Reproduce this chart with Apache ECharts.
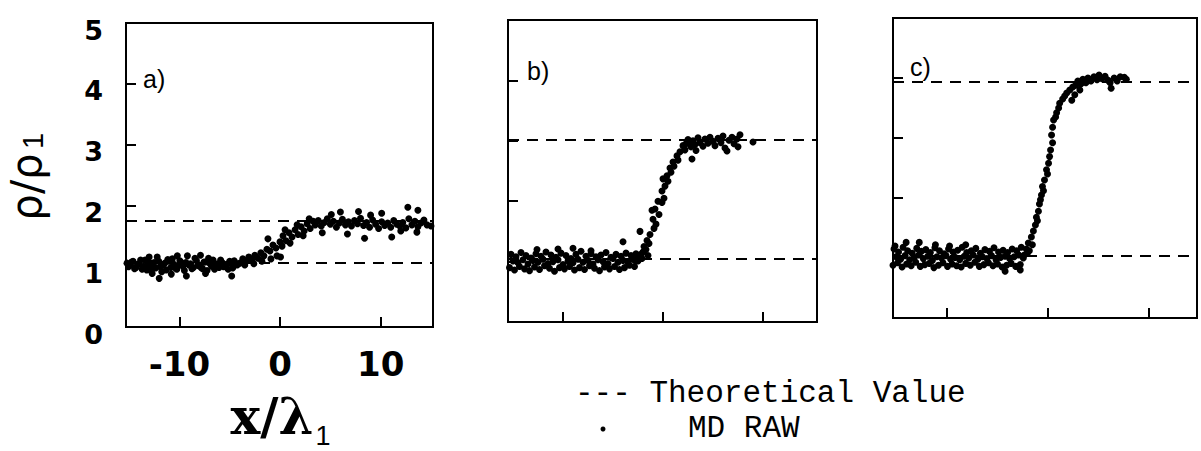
<!DOCTYPE html>
<html><head><meta charset="utf-8">
<script src="https://cdn.jsdelivr.net/npm/echarts@6/dist/echarts.min.js"></script>
<style>html,body{margin:0;padding:0;background:#fff}#c{width:1201px;height:451px}</style>
</head><body><div id="c"></div>
<script>
// ---------- data ----------
const xTickValues = [-10, 0, 10];
const xTickLabels = ['-10', '0', '10'];
const yTickValues = [1, 2, 3, 4];
const yLabelValues = [0, 1, 2, 3, 4, 5];
const yTickLabels = ['0', '1', '2', '3', '4', '5'];
const panelNames = ['a)', 'b)', 'c)'];
const legendNames = ['--- Theoretical Value', 'MD RAW'];
const yTitleMain = 'ρ/ρ';
const xTitleMain = 'x/λ';
const titleSub = '1';

// theoretical values (dashed lines) per panel
const theoryA = [1.05, 1.74];
const theoryB = [1.04, 3.02];
const theoryC = [1.03, 3.93];

// MD raw points, panel a
const aPoints = [
[-15.2,1.05],[-15.05,0.99],[-14.9,1.02],[-14.75,1.07],[-14.6,1.08],[-14.45,0.96],[-14.3,0.98],[-14.15,1.03],[-14.0,1.04],[-13.85,1.10],
[-13.7,0.95],[-13.55,1.00],[-13.4,1.10],[-13.25,0.94],[-13.1,1.00],[-12.95,1.06],[-12.8,0.92],[-12.65,1.02],[-12.5,1.06],[-12.35,0.97],
[-12.2,1.15],[-12.05,1.08],[-11.9,0.99],[-11.75,0.91],[-11.6,1.03],[-11.45,1.05],[-11.3,0.94],[-11.15,1.11],[-11.0,1.08],[-10.85,0.98],
[-10.7,1.12],[-10.55,1.03],[-10.4,0.97],[-10.25,0.95],[-10.1,1.01],[-9.95,1.09],[-9.8,1.06],[-9.65,1.00],[-9.5,0.93],[-9.35,1.06],
[-9.2,1.17],[-9.05,1.02],[-8.9,1.04],[-8.75,0.96],[-8.6,0.98],[-8.45,1.13],[-8.3,1.09],[-8.15,1.01],[-8.0,1.02],[-7.85,0.98],
[-7.7,0.96],[-7.55,1.07],[-7.4,1.07],[-7.25,0.93],[-7.1,1.13],[-6.95,1.04],[-6.8,1.00],[-6.65,1.10],[-6.5,0.95],[-6.35,1.02],
[-6.2,1.04],[-6.05,0.98],[-5.9,1.10],[-5.75,1.06],[-5.6,0.99],[-5.45,1.01],[-5.3,1.03],[-5.15,0.95],[-5.0,1.08],[-4.85,1.05],
[-4.7,0.97],[-4.55,1.09],[-4.4,1.05],[-4.25,1.02],
[-12.0,0.80],[-9.3,0.84],[-4.8,0.84],[-13.0,1.15],[-10.2,1.17],[-7.9,1.18],[-12.7,0.88],[-10.8,0.87],[-7.4,0.88],
[-4.0,1.05],[-3.7,1.12],[-3.4,1.08],[-3.1,1.15],[-2.8,1.10],[-2.5,1.18],[-2.2,1.13],[-1.9,1.22],[-1.6,1.17],[-1.3,1.28],
[-1.2,1.45],[-1.0,1.25],[-0.7,1.35],[-0.4,1.30],[-0.3,1.17],[0.0,1.40],[0.3,1.50],[0.6,1.42],[0.9,1.55],[1.2,1.48],
[1.5,1.60],[1.8,1.52],[2.1,1.65],[2.4,1.58],[2.7,1.70],[3.0,1.62],[3.3,1.74],[-3.5,1.02],[-2.6,1.04],[-1.8,1.08],
[-0.9,1.12],[0.2,1.33],[0.5,1.60],[1.0,1.38],[1.7,1.68],[2.3,1.50],[2.9,1.78],[0.05,1.15],
[3.5,1.68],[3.8,1.75],[4.1,1.66],[4.4,1.72],[4.7,1.78],[5.0,1.69],[5.3,1.74],[5.6,1.64],[5.9,1.71],[6.2,1.77],
[6.5,1.68],[6.8,1.73],[7.1,1.66],[7.4,1.75],[7.7,1.70],[8.0,1.79],[8.3,1.67],[8.6,1.72],[8.9,1.64],[9.2,1.76],
[9.5,1.69],[9.8,1.62],[10.1,1.73],[10.4,1.67],[10.7,1.71],[11.0,1.64],[11.3,1.75],[11.6,1.69],[11.9,1.66],[12.2,1.72],
[12.5,1.63],[12.8,1.78],[13.1,1.68],[13.4,1.74],[13.7,1.65],[14.0,1.71],[14.3,1.76],[14.6,1.68],[15.0,1.66],
[6.0,1.89],[7.8,1.90],[10.1,1.87],[12.7,1.97],[13.7,1.92],[6.7,1.53],[8.4,1.46],[11.1,1.48],[13.6,1.56],[4.2,1.55],
[5.1,1.85],[9.0,1.84],[12.0,1.58]
];

// MD raw points, panel b
const bPoints = [
[-15.2,1.12],[-14.7,1.08],[-14.2,1.15],[-13.7,1.10],[-13.2,1.06],[-12.7,1.13],[-12.2,1.09],[-11.7,1.16],[-11.2,1.11],[-10.7,1.07],
[-10.2,1.14],[-9.7,1.10],[-9.2,1.05],[-8.7,1.12],[-8.2,1.17],[-7.7,1.09],[-7.2,1.13],[-6.7,1.08],[-6.2,1.11],[-5.7,1.15],
[-5.2,1.07],[-4.7,1.12],[-4.2,1.09],[-3.7,1.14],[-3.2,1.10],[-2.7,1.13],
[-15.0,1.01],[-14.5,0.98],[-14.0,1.03],[-13.5,0.96],[-13.0,1.02],[-12.5,0.99],[-12.0,1.04],[-11.5,0.97],[-11.0,1.00],[-10.5,1.03],
[-10.0,0.95],[-9.5,1.01],[-9.0,0.98],[-8.5,1.04],[-8.0,0.99],[-7.5,1.02],[-7.0,0.96],[-6.5,1.03],[-6.0,1.00],[-5.5,0.97],
[-5.0,1.05],[-4.5,0.99],[-4.0,1.02],[-3.5,0.98],[-3.0,1.04],[-2.5,1.01],
[-15.35,0.90],[-14.85,0.86],[-14.35,0.92],[-13.85,0.88],[-13.35,0.85],[-12.85,0.91],[-12.35,0.87],[-11.85,0.93],[-11.35,0.89],[-10.85,0.84],
[-10.35,0.90],[-9.85,0.88],[-9.35,0.92],[-8.85,0.86],[-8.35,0.90],[-7.85,0.87],[-7.35,0.93],[-6.85,0.89],[-6.35,0.85],[-5.85,0.91],
[-5.35,0.88],[-4.85,0.92],[-4.35,0.87],[-3.85,0.90],[-3.35,0.94],[-2.85,0.92],
[-12.6,1.20],[-9.0,1.22],[-7.2,1.18],[-10.5,1.21],[-4.0,1.33],
[-2.5,1.08],[-2.3,1.50],[-2.2,1.12],[-2.0,1.16],[-1.9,1.25],[-1.7,1.20],[-1.6,1.35],[-1.4,1.30],[-1.3,1.45],[-1.1,1.85],
[-1.0,1.70],[-0.9,1.55],[-0.8,1.87],[-0.7,1.62],[-0.5,2.00],[-0.4,1.78],[-0.1,2.17],[0.0,2.37],[-0.1,1.98],[0.1,2.05],
[0.2,2.25],[0.4,2.42],[0.5,2.33],[0.7,2.55],[0.8,2.48],[1.0,2.65],[1.1,2.58],[1.4,2.75],[1.5,2.68],[1.7,2.82],
[2.0,2.92],[2.2,2.85],[2.7,2.98],[2.9,2.70],[-2.8,1.02],[-2.1,1.05],[-1.5,1.10],
[2.3,2.95],[2.5,3.02],[2.8,2.90],[3.0,3.00],[3.2,2.94],[3.5,3.05],[3.7,2.97],[4.0,2.91],[4.2,3.03],[4.5,2.96],
[4.7,3.06],[5.0,2.99],[5.2,2.92],[5.5,3.04],[5.8,2.97],[6.0,3.08],[6.2,2.88],[6.4,2.83],[6.6,3.01],[6.9,3.06],
[7.1,2.95],[7.4,3.03],[7.7,3.10],[7.5,2.90],[9.0,2.98],[3.3,2.84]
];

// MD raw points, panel c
const cPoints = [
[-15.2,1.15],[-14.75,1.10],[-14.3,1.18],[-13.85,1.12],[-13.4,1.08],[-12.95,1.16],[-12.5,1.11],[-12.05,1.14],[-11.6,1.09],[-11.15,1.17],
[-10.7,1.12],[-10.25,1.07],[-9.8,1.15],[-9.35,1.10],[-8.9,1.13],[-8.45,1.18],[-8.0,1.09],[-7.55,1.12],[-7.1,1.16],[-6.65,1.08],
[-6.2,1.14],[-5.75,1.11],[-5.3,1.17],[-4.85,1.10],[-4.4,1.13],[-3.95,1.09],[-3.5,1.15],[-3.05,1.12],[-2.6,1.18],
[-15.0,1.02],[-14.55,0.98],[-14.1,1.04],[-13.65,0.97],[-13.2,1.01],[-12.75,1.05],[-12.3,0.99],[-11.85,1.03],[-11.4,0.96],[-10.95,1.02],
[-10.5,1.00],[-10.05,1.04],[-9.6,0.98],[-9.15,1.01],[-8.7,0.97],[-8.25,1.03],[-7.8,1.00],[-7.35,1.05],[-6.9,0.98],[-6.45,1.02],
[-6.0,0.99],[-5.55,1.04],[-5.1,0.97],[-4.65,1.01],[-4.2,1.03],[-3.75,0.99],[-3.3,1.02],[-2.85,1.05],[-2.4,1.00],
[-15.3,0.88],[-14.85,0.92],[-14.4,0.85],[-13.95,0.90],[-13.5,0.87],[-13.05,0.93],[-12.6,0.86],[-12.15,0.89],[-11.7,0.91],[-11.25,0.84],
[-10.8,0.88],[-10.35,0.92],[-9.9,0.86],[-9.45,0.90],[-9.0,0.87],[-8.55,0.85],[-8.1,0.91],[-7.65,0.88],[-7.2,0.93],[-6.75,0.86],
[-6.3,0.89],[-5.85,0.92],[-5.4,0.87],[-4.95,0.90],[-4.5,0.85],[-4.05,0.88],[-3.6,0.91],[-3.15,0.86],[-2.7,0.89],
[-14.0,1.26],[-12.7,1.26],[-11.1,1.22],[-9.7,1.20],[-8.1,1.22],[-4.2,0.78],[-2.7,0.80],[-15.1,1.20],
[-2.3,1.05],[-2.1,1.15],[-2.0,1.08],[-1.9,1.25],[-1.8,1.12],[-1.6,1.35],[-1.5,1.22],[-1.4,1.45],[-1.2,1.55],[-1.1,1.68],
[-1.0,1.62],[-0.9,1.78],[-0.8,1.90],[-0.7,1.97],[-0.6,2.05],[-0.5,2.19],[-0.4,2.12],[-0.3,2.30],[-0.1,2.47],[0.0,2.40],
[0.2,2.69],[0.1,2.58],[0.3,2.80],[0.5,2.92],[0.4,3.05],[0.5,3.18],[0.6,3.30],[0.9,3.42],[0.8,3.35],[1.2,3.58],
[1.1,3.50],[1.5,3.65],[1.9,3.75],[1.7,3.70],[2.4,3.63],[2.5,3.85],[2.2,3.80],
[2.8,3.88],[3.0,3.95],[3.3,3.90],[3.5,3.98],[3.8,3.92],[4.0,4.00],[4.3,3.95],[4.6,4.02],[4.9,3.97],[5.1,4.05],
[5.4,3.99],[5.7,4.03],[6.0,3.96],[6.3,3.83],[6.2,3.92],[6.6,4.00],[6.9,3.95],[7.2,4.02],[7.6,4.01],[7.8,3.98],
[3.2,3.80],[2.7,3.72]
];

// ---------- chart ----------
const chart = echarts.init(document.getElementById('c'), null, {renderer: 'svg'});

const grids = [
  {left: 126, top: 23, width: 307, height: 304},
  {left: 508, top: 20, width: 309, height: 302},
  {left: 893, top: 18, width: 304, height: 300}
];
const xRanges = [[-15.3, 15.2], [-15.5, 15.4], [-15.3, 14.8]];

function xAxisFor(i) {
  return {
    type: 'value', gridIndex: i, min: xRanges[i][0], max: xRanges[i][1],
    axisLine: {show: false, onZero: false}, splitLine: {show: false},
    axisTick: {show: true, inside: true, length: 10, customValues: xTickValues, lineStyle: {color: '#000', width: 2}},
    axisLabel: {
      show: i === 0, customValues: xTickValues,
      formatter: v => xTickLabels[xTickValues.indexOf(v)],
      fontSize: 34, fontWeight: 'bold', fontFamily: 'DejaVu Sans', color: '#000', margin: 20
    }
  };
}
function yAxisFor(i) {
  return {
    type: 'value', gridIndex: i, min: 0, max: 5,
    axisLine: {show: false, onZero: false}, splitLine: {show: false},
    axisTick: {show: true, inside: true, length: 10, customValues: yTickValues, lineStyle: {color: '#000', width: 2}},
    axisLabel: {
      show: i === 0, customValues: yLabelValues,
      formatter: v => yTickLabels[yLabelValues.indexOf(v)],
      fontSize: 27, fontWeight: 'bold', fontFamily: 'DejaVu Sans', color: '#000', margin: 23,
      verticalAlign: 'top', lineHeight: 14
    }
  };
}
const pointSets = [aPoints, bPoints, cPoints];
const theories = [theoryA, theoryB, theoryC];

const series = pointSets.map((pts, i) => ({
  type: 'scatter', xAxisIndex: i, yAxisIndex: i, data: pts,
  symbol: 'circle', symbolSize: 7, itemStyle: {color: '#000', opacity: 1}, silent: true,
  markLine: {
    silent: true, symbol: ['none', 'none'], label: {show: false},
    lineStyle: {color: '#000', width: 2, type: [11, 8]},
    data: theories[i].map(v => ({yAxis: v}))
  }
}));

const panelPos = [[143, 79], [527, 71], [910, 67]];
const graphic = panelNames.map((t, i) => ({
  type: 'text', x: panelPos[i][0], y: panelPos[i][1],
  style: {text: t, fontSize: 25, fontFamily: 'Liberation Sans', fill: '#000', align: 'left', verticalAlign: 'middle'}
}));
// y-axis title
graphic.push({
  type: 'text', x: 26, y: 187, rotation: Math.PI / 2,
  style: {text: yTitleMain, fontSize: 42, fontFamily: 'DejaVu Sans', fill: '#000', align: 'center', verticalAlign: 'middle', lineHeight: 34}
});
graphic.push({
  type: 'text', x: 33, y: 141, rotation: Math.PI / 2,
  style: {text: titleSub, fontSize: 29, fontFamily: 'Liberation Sans', fill: '#000', align: 'center', verticalAlign: 'middle', lineHeight: 26}
});
// x-axis title
graphic.push({
  type: 'text', x: 272, y: 416,
  style: {text: xTitleMain, fontSize: 50, fontWeight: 'bold', fontFamily: 'DejaVu Serif', fill: '#000', align: 'center', verticalAlign: 'middle'}
});
graphic.push({
  type: 'text', x: 323, y: 436,
  style: {text: titleSub, fontSize: 27, fontFamily: 'Liberation Sans', fill: '#000', align: 'center', verticalAlign: 'middle', lineHeight: 22}
});
// legend
graphic.push({
  type: 'text', x: 575, y: 393,
  style: {text: legendNames[0], fontSize: 31, fontFamily: 'Liberation Mono', fill: '#000', align: 'left', verticalAlign: 'middle', lineHeight: 26}
});
graphic.push({
  type: 'text', x: 688, y: 428,
  style: {text: legendNames[1], fontSize: 31, fontFamily: 'Liberation Mono', fill: '#000', align: 'left', verticalAlign: 'middle', lineHeight: 26}
});
graphic.push({type: 'circle', shape: {cx: 603, cy: 429, r: 2.5}, style: {fill: '#000'}});

chart.setOption({
  animation: false,
  backgroundColor: '#fff',
  grid: grids.map(g => Object.assign({show: true, borderColor: '#000', borderWidth: 2, backgroundColor: 'transparent', containLabel: false}, g)),
  xAxis: [0, 1, 2].map(xAxisFor),
  yAxis: [0, 1, 2].map(yAxisFor),
  series: series,
  graphic: graphic
});
</script>
</body></html>
